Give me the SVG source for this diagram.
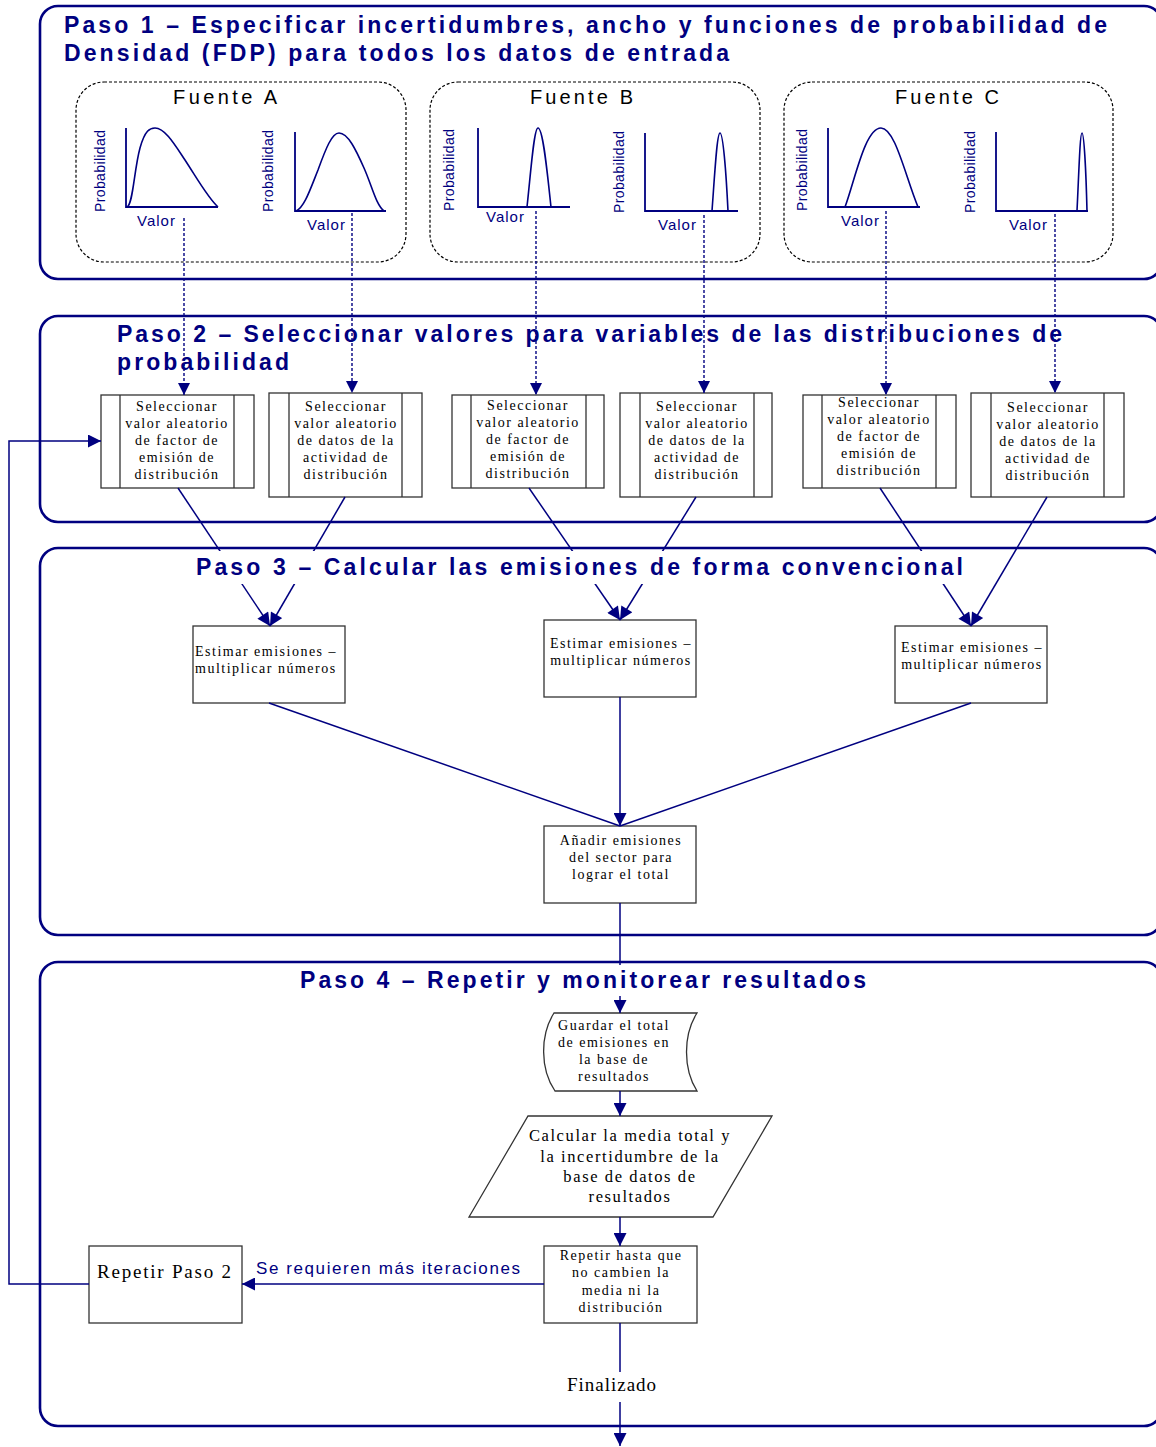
<svg xmlns="http://www.w3.org/2000/svg" width="1156" height="1447" viewBox="0 0 1156 1447">
<style>
.panel{fill:none;stroke:#000080;stroke-width:2.6}
.title{font-family:"Liberation Sans",Arial,sans-serif;font-weight:bold;font-size:23px;fill:#000080}
.src{fill:none;stroke:#000;stroke-width:1.2;stroke-dasharray:3,2}
.fuente{font-family:"Liberation Sans",Arial,sans-serif;font-size:20px;fill:#000}
.axis{fill:none;stroke:#000080;stroke-width:1.8}
.curve{fill:none;stroke:#000080;stroke-width:1.6}
.prob{font-family:"Liberation Sans",Arial,sans-serif;font-size:14px;fill:#000080;text-anchor:middle}
.valor{font-family:"Liberation Sans",Arial,sans-serif;font-size:15px;fill:#000080;letter-spacing:1px}
.box{fill:#fff;stroke:#333;stroke-width:1.3}
.bl{fill:none;stroke:#333;stroke-width:1.3}
.bt{font-family:"Liberation Serif","Times New Roman",serif;font-size:14px;fill:#000;letter-spacing:1.5px;text-anchor:middle}
.bt16{font-family:"Liberation Serif","Times New Roman",serif;font-size:16.5px;fill:#000;letter-spacing:1.6px;text-anchor:middle}
.conn{fill:none;stroke:#000080;stroke-width:1.5}
.dash{fill:none;stroke:#000080;stroke-width:1.4;stroke-dasharray:3,2}
.lbl{font-family:"Liberation Sans",Arial,sans-serif;font-size:17px;fill:#000080}
</style>
<defs>
<marker id="ah" viewBox="0 0 10 10" refX="10" refY="5" markerWidth="15" markerHeight="13" markerUnits="userSpaceOnUse" orient="auto">
<path d="M0,0 L10,5 L0,10 z" fill="#000080"/>
</marker>
<marker id="ahs" viewBox="0 0 10 10" refX="10" refY="5" markerWidth="14" markerHeight="12" markerUnits="userSpaceOnUse" orient="auto">
<path d="M0,0 L10,5 L0,10 z" fill="#000080"/>
</marker>
</defs>
<rect width="1156" height="1447" fill="#fff"/>

<g id="panels">
<rect class="panel" x="40" y="6" width="1122" height="273" rx="18"/>
<rect class="panel" x="40" y="316" width="1122" height="206" rx="18"/>
<rect class="panel" x="40" y="548" width="1122" height="387" rx="18"/>
<rect class="panel" x="40" y="962" width="1122" height="464" rx="18"/>
</g>

<g id="fuenteA">
<rect class="src" x="76" y="82" width="330" height="180" rx="28"/>
<text class="fuente" x="173" y="104" textLength="104" lengthAdjust="spacing">Fuente A</text>
<path class="axis" d="M126,128 V207 H218"/>
<path class="curve" d="M127,207 C133,205 134,170 140,148 C145,130 150,128 155,128 C165,128 175,145 185,160 C198,180 208,198 218,207"/>
<text class="prob" transform="translate(105,171) rotate(-90)" textLength="82" lengthAdjust="spacing">Probabilidad</text>
<text class="valor" x="137" y="226">Valor</text>
<path class="axis" d="M295,132 V211 H386"/>
<path class="curve" d="M296,211 C304,208 310,190 318,170 C326,148 332,133 339,133 C348,133 356,150 364,168 C372,186 376,205 384,211"/>
<text class="prob" transform="translate(273,171) rotate(-90)" textLength="82" lengthAdjust="spacing">Probabilidad</text>
<text class="valor" x="307" y="230">Valor</text>
</g>

<g id="fuenteB">
<rect class="src" x="430" y="82" width="330" height="180" rx="28"/>
<text class="fuente" x="530" y="104" textLength="103" lengthAdjust="spacing">Fuente B</text>
<path class="axis" d="M478,128 V207 H570"/>
<path class="curve" d="M527,207 C531,170 534,128 538,128 C543,128 547,170 551,207"/>
<text class="prob" transform="translate(454,170) rotate(-90)" textLength="82" lengthAdjust="spacing">Probabilidad</text>
<text class="valor" x="486" y="222">Valor</text>
<path class="axis" d="M645,133 V211 H738"/>
<path class="curve" d="M712,211 C715,170 717,133 720,133 C723,133 726,170 728,211"/>
<text class="prob" transform="translate(624,172) rotate(-90)" textLength="82" lengthAdjust="spacing">Probabilidad</text>
<text class="valor" x="658" y="230">Valor</text>
</g>

<g id="fuenteC">
<rect class="src" x="784" y="82" width="329" height="180" rx="28"/>
<text class="fuente" x="895" y="104" textLength="104" lengthAdjust="spacing">Fuente C</text>
<path class="axis" d="M828,128 V207 H920"/>
<path class="curve" d="M845,207 C855,180 865,128 881,128 C895,128 905,175 918,207"/>
<text class="prob" transform="translate(807,170) rotate(-90)" textLength="82" lengthAdjust="spacing">Probabilidad</text>
<text class="valor" x="841" y="226">Valor</text>
<path class="axis" d="M996,132 V211 H1088"/>
<path class="curve" d="M1077,211 C1079,170 1080,133 1082,133 C1084,133 1086,170 1087,211"/>
<text class="prob" transform="translate(975,172) rotate(-90)" textLength="82" lengthAdjust="spacing">Probabilidad</text>
<text class="valor" x="1009" y="230">Valor</text>
</g>

<g id="sel1">
<rect class="box" x="101" y="395" width="153" height="93"/>
<path class="bl" d="M120,395 V488 M234,395 V488"/>
<text class="bt" x="177" y="411">Seleccionar</text>
<text class="bt" x="177" y="428">valor aleatorio</text>
<text class="bt" x="177" y="445">de factor de</text>
<text class="bt" x="177" y="462">emisión de</text>
<text class="bt" x="177" y="479">distribución</text>
</g>
<g id="sel2">
<rect class="box" x="269" y="393" width="153" height="104"/>
<path class="bl" d="M289,393 V497 M402,393 V497"/>
<text class="bt" x="346" y="411">Seleccionar</text>
<text class="bt" x="346" y="428">valor aleatorio</text>
<text class="bt" x="346" y="445">de datos de la</text>
<text class="bt" x="346" y="462">actividad de</text>
<text class="bt" x="346" y="479">distribución</text>
</g>
<g id="sel3">
<rect class="box" x="452" y="395" width="152" height="93"/>
<path class="bl" d="M471,395 V488 M586,395 V488"/>
<text class="bt" x="528" y="410">Seleccionar</text>
<text class="bt" x="528" y="427">valor aleatorio</text>
<text class="bt" x="528" y="444">de factor de</text>
<text class="bt" x="528" y="461">emisión de</text>
<text class="bt" x="528" y="478">distribución</text>
</g>
<g id="sel4">
<rect class="box" x="620" y="393" width="152" height="104"/>
<path class="bl" d="M640,393 V497 M754,393 V497"/>
<text class="bt" x="697" y="411">Seleccionar</text>
<text class="bt" x="697" y="428">valor aleatorio</text>
<text class="bt" x="697" y="445">de datos de la</text>
<text class="bt" x="697" y="462">actividad de</text>
<text class="bt" x="697" y="479">distribución</text>
</g>
<g id="sel5">
<rect class="box" x="803" y="395" width="153" height="93"/>
<path class="bl" d="M822,395 V488 M936,395 V488"/>
<text class="bt" x="879" y="407">Seleccionar</text>
<text class="bt" x="879" y="424">valor aleatorio</text>
<text class="bt" x="879" y="441">de factor de</text>
<text class="bt" x="879" y="458">emisión de</text>
<text class="bt" x="879" y="475">distribución</text>
</g>
<g id="sel6">
<rect class="box" x="971" y="393" width="153" height="104"/>
<path class="bl" d="M991,393 V497 M1104,393 V497"/>
<text class="bt" x="1048" y="412">Seleccionar</text>
<text class="bt" x="1048" y="429">valor aleatorio</text>
<text class="bt" x="1048" y="446">de datos de la</text>
<text class="bt" x="1048" y="463">actividad de</text>
<text class="bt" x="1048" y="480">distribución</text>
</g>

<g id="est1">
<rect class="box" x="193" y="626" width="152" height="77"/>
<text class="bt" x="195" y="656" style="text-anchor:start">Estimar emisiones –</text>
<text class="bt" x="195" y="673" style="text-anchor:start">multiplicar números</text>
</g>
<g id="est2">
<rect class="box" x="544" y="620" width="152" height="77"/>
<text class="bt" x="621" y="648">Estimar emisiones –</text>
<text class="bt" x="621" y="665">multiplicar números</text>
</g>
<g id="est3">
<rect class="box" x="895" y="626" width="152" height="77"/>
<text class="bt" x="972" y="652">Estimar emisiones –</text>
<text class="bt" x="972" y="669">multiplicar números</text>
</g>

<g id="anadir">
<rect class="box" x="544" y="826" width="152" height="77"/>
<text class="bt" x="621" y="845">Añadir emisiones</text>
<text class="bt" x="621" y="862">del sector para</text>
<text class="bt" x="621" y="879">lograr el total</text>
</g>

<g id="guardar">
<path class="box" d="M554,1013 L697,1013 C683,1035 683,1069 697,1091 L555,1091 C540,1069 540,1035 554,1013 Z"/>
<text class="bt" x="614" y="1030">Guardar el total</text>
<text class="bt" x="614" y="1047">de emisiones en</text>
<text class="bt" x="614" y="1064">la base de</text>
<text class="bt" x="614" y="1081">resultados</text>
</g>

<g id="calcular">
<polygon class="box" points="528,1116 772,1116 713,1217 469,1217"/>
<text class="bt16" x="630" y="1141">Calcular la media total y</text>
<text class="bt16" x="630" y="1162">la incertidumbre de la</text>
<text class="bt16" x="630" y="1182">base de datos de</text>
<text class="bt16" x="630" y="1202">resultados</text>
</g>

<g id="repetir">
<rect class="box" x="544" y="1246" width="153" height="77"/>
<text class="bt" x="621" y="1260">Repetir hasta que</text>
<text class="bt" x="621" y="1277">no cambien la</text>
<text class="bt" x="621" y="1295">media ni la</text>
<text class="bt" x="621" y="1312">distribución</text>
</g>

<g id="repetirPaso2">
<rect class="box" x="89" y="1246" width="153" height="77"/>
<text x="97" y="1278" style="font-family:'Liberation Serif','Times New Roman',serif;font-size:19px;letter-spacing:1px;fill:#000" textLength="135" lengthAdjust="spacing">Repetir Paso 2</text>
</g>

<g id="connectors">
<path class="dash" d="M184,218 V395" marker-end="url(#ahs)"/>
<path class="dash" d="M352,213 V393" marker-end="url(#ahs)"/>
<path class="dash" d="M536,211 V395" marker-end="url(#ahs)"/>
<path class="dash" d="M704,215 V393" marker-end="url(#ahs)"/>
<path class="dash" d="M886,211 V395" marker-end="url(#ahs)"/>
<path class="dash" d="M1055,214 V393" marker-end="url(#ahs)"/>
<path class="conn" d="M178,488 L270,626" marker-end="url(#ah)"/>
<path class="conn" d="M345,497 L270,626" marker-end="url(#ah)"/>
<path class="conn" d="M529,488 L620,620" marker-end="url(#ah)"/>
<path class="conn" d="M696,497 L620,620" marker-end="url(#ah)"/>
<path class="conn" d="M880,488 L971,626" marker-end="url(#ah)"/>
<path class="conn" d="M1047,497 L971,626" marker-end="url(#ah)"/>
<path class="conn" d="M269,703 L620,826"/>
<path class="conn" d="M971,703 L620,826"/>
<path class="conn" d="M620,697 V826" marker-end="url(#ah)"/>
<path class="conn" d="M620,903 V1013" marker-end="url(#ah)"/>
<path class="conn" d="M620,1091 V1116" marker-end="url(#ah)"/>
<path class="conn" d="M620,1217 V1246" marker-end="url(#ah)"/>
<path class="conn" d="M544,1284 H242" marker-end="url(#ah)"/>
<text class="lbl" x="256" y="1274" textLength="264" lengthAdjust="spacing">Se requieren más iteraciones</text>
<path class="conn" d="M89,1284 H9 V441 H101" marker-end="url(#ah)"/>
<path class="conn" d="M620,1323 V1372"/>
<text x="612" y="1391" style="font-family:'Liberation Serif','Times New Roman',serif;font-size:19px;letter-spacing:1px;fill:#000;text-anchor:middle">Finalizado</text>
<path class="conn" d="M620,1402 V1446" marker-end="url(#ah)"/>
</g>

<g id="titles">
<text class="title" x="64" y="33" textLength="1043" lengthAdjust="spacing">Paso 1 – Especificar incertidumbres, ancho y funciones de probabilidad de</text>
<text class="title" x="64" y="61" textLength="665" lengthAdjust="spacing">Densidad (FDP) para todos los datos de entrada</text>
<text class="title" x="117" y="342" textLength="945" lengthAdjust="spacing">Paso 2 – Seleccionar valores para variables de las distribuciones de</text>
<text class="title" x="117" y="370" textLength="172" lengthAdjust="spacing">probabilidad</text>
<rect x="192" y="551" width="776" height="33" fill="#fff"/>
<text class="title" x="196" y="575" textLength="767" lengthAdjust="spacing">Paso 3 – Calcular las emisiones de forma convencional</text>
<rect x="296" y="965" width="574" height="31" fill="#fff"/>
<text class="title" x="300" y="988" textLength="566" lengthAdjust="spacing">Paso 4 – Repetir y monitorear resultados</text>
</g>
</svg>
